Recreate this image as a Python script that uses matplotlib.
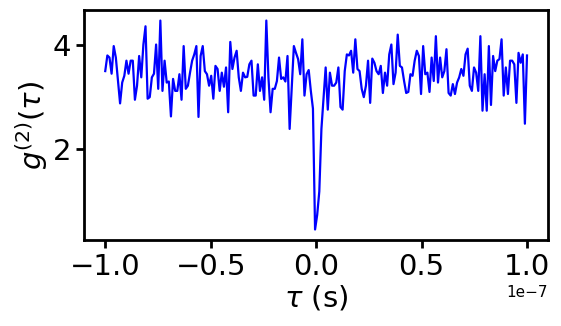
import numpy as np
import matplotlib
matplotlib.use("Agg")
import matplotlib.pyplot as plt

# 200 delays from -100 ns to +100 ns
TAU_MIN = -1e-7
TAU_MAX = 1e-7
N_PTS = 200

G2 = [
    3.50, 3.80, 3.76, 3.45, 3.98, 3.76, 3.31, 2.88, 3.28, 3.41,
    3.70, 3.45, 3.70, 3.70, 2.95, 3.22, 3.79, 3.38, 4.01, 4.36,
    2.97, 3.00, 3.38, 3.45, 4.01, 3.16, 4.47, 3.12, 3.70, 3.28,
    3.30, 2.63, 3.35, 3.12, 3.12, 3.44, 2.95, 3.98, 3.16, 3.22,
    3.47, 3.70, 3.82, 3.98, 2.62, 3.79, 3.98, 3.50, 3.44, 3.22,
    3.41, 2.97, 3.60, 3.54, 3.12, 3.47, 3.20, 3.57, 2.71, 4.06,
    3.54, 3.76, 3.89, 3.38, 3.12, 3.47, 3.38, 3.39, 3.63, 3.70,
    3.03, 3.03, 3.63, 3.12, 3.38, 2.95, 4.47, 3.38, 2.71, 3.16,
    3.16, 3.31, 3.76, 3.35, 3.38, 3.30, 3.79, 2.39, 3.20, 3.98,
    3.85, 3.73, 3.44, 4.11, 3.03, 3.44, 3.52, 3.12, 2.78, 0.46,
    0.74, 1.19, 2.39, 2.97, 3.57, 2.76, 3.47, 3.22, 3.22, 3.28,
    3.57, 2.81, 2.76, 3.50, 3.82, 3.80, 3.89, 3.47, 4.11, 3.54,
    3.50, 3.16, 3.00, 3.22, 3.70, 2.89, 3.74, 3.66, 3.50, 3.44,
    3.60, 3.08, 3.47, 3.22, 3.82, 4.01, 3.25, 3.47, 4.20, 3.60,
    3.57, 3.31, 3.08, 3.10, 3.44, 3.41, 3.70, 3.89, 3.79, 3.06,
    3.98, 3.44, 3.47, 3.10, 3.76, 3.31, 4.17, 3.28, 3.76, 3.38,
    3.50, 3.92, 3.08, 3.03, 3.25, 3.06, 3.28, 3.38, 3.54, 3.41,
    3.82, 3.93, 3.22, 3.12, 3.57, 3.47, 3.12, 4.17, 2.74, 3.44,
    2.74, 3.98, 2.85, 3.79, 3.50, 3.70, 3.73, 4.11, 3.03, 3.57,
    3.06, 3.70, 3.70, 3.63, 2.89, 3.85, 3.66, 3.82, 2.49, 3.80,
]

tau = np.linspace(TAU_MIN, TAU_MAX, N_PTS)

fig = plt.figure(figsize=(5.61, 3.26), dpi=100)
ax = fig.add_axes([0.150, 0.264, 0.827, 0.705])
ax.plot(tau, G2, color="blue", lw=1.6)

ax.set_xlabel(r"$\tau$ (s)", fontsize=21, labelpad=2)
ax.set_ylabel(r"$g^{(2)}(\tau)$", fontsize=21, labelpad=2)
ax.set_yticks([2, 4])
ax.tick_params(labelsize=21, width=2, length=6)
ax.xaxis.get_offset_text().set_fontsize(11)
for s in ax.spines.values():
    s.set_linewidth(2)

fig.savefig("out.png", dpi=100)
